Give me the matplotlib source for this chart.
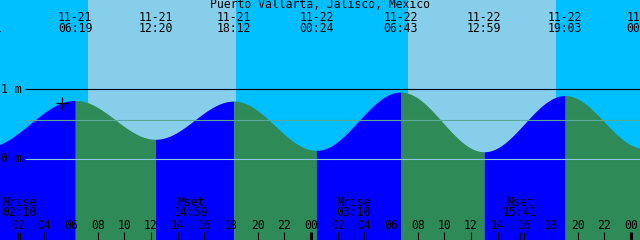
import numpy as np
import matplotlib
matplotlib.use('Agg')
import matplotlib.pyplot as plt

# Tide events (date, time, height in m)
event_dates = ['11-20', '11-21', '11-21', '11-21', '11-22', '11-22', '11-22', '11-22', '11-23']
event_times = ['23:31', '06:19', '12:20', '18:12', '00:24', '06:43', '12:59', '19:03', '00:57']
event_heights = [0.16, 0.84, 0.28, 0.83, 0.12, 0.96, 0.10, 0.91, 0.15]

# sun and moon
sunrise = ['07:16', '07:17']
sunset = ['18:21', '18:23']
moon_labels = ['Mrise', 'Mset', 'Mrise', 'Mset']
moon_times = ['02:10', '14:59', '03:10', '15:41']
moon_days = [0, 0, 1, 1]

now_time = 5.33  # hours since 11-21 00:00 (the + marker)

title = 'Puerto Vallarta, Jalisco, Mexico'
day_of = {'11-20': -1, '11-21': 0, '11-22': 1, '11-23': 2}


def hours(hhmm, day=0):
    h, m = hhmm.split(':')
    return 24 * day + int(h) + int(m) / 60.0


ev_t = np.array([hours(tm, day_of[d]) for d, tm in zip(event_dates, event_times)])
ev_h = np.array(event_heights)

# axes ranges matching pixel layout
px_per_h = 320 / 24.0
x0 = 24 - 311 / px_per_h
x1 = x0 + 640 / px_per_h
px_per_m = 69.4
y_top = 158.7 / px_per_m
y_bot = -(240 - 158.7) / px_per_m

fig = plt.figure(figsize=(6.4, 2.4), dpi=100)
ax = fig.add_axes([0, 0, 1, 1])
ax.set_xlim(x0, x1)
ax.set_ylim(y_bot, y_top)
ax.axis('off')

night = '#00BFFF'
day = '#87CEEB'
ax.axvspan(x0, x1, color=night, lw=0)
for d in range(2):
    ax.axvspan(hours(sunrise[d], d), hours(sunset[d], d), color=day, lw=0)

# tide curve between extremes, flood blue / ebb green
for i in range(len(ev_t) - 1):
    ta, tb = ev_t[i], ev_t[i + 1]
    ha, hb = ev_h[i], ev_h[i + 1]
    tt = np.linspace(ta, tb, 200)
    hh = ha + (hb - ha) * (1 - np.cos(np.pi * (tt - ta) / (tb - ta))) / 2
    col = '#0000FF' if hb > ha else '#2E8B57'
    ax.fill_between(tt, y_bot, hh, color=col, lw=0)

# level lines
xl = x0 + 25 / px_per_h
ax.hlines(1.0, xl, x1, color='black', lw=0.8)
ax.hlines(0.0, xl, x1, color='#8CC8E8', lw=0.8)
ax.hlines(0.553, xl, x1, color='#5AA897', lw=0.8)

font = dict(family='DejaVu Sans Mono', fontsize=8.3, color='black')
ax.text(x0 + 1 / px_per_h, 1.0, '1 m', ha='left', va='center', **font)
ax.text(x0 + 1 / px_per_h, 0.0, '0 m', ha='left', va='center', **font)

ax.plot([now_time], [0.80], marker='+', color='black', markersize=9, mew=0.9)

xa = ax.get_xaxis_transform()


def yf(ypix):
    return 1 - ypix / 240.0


ax.text(0.5, yf(5), title, transform=ax.transAxes, ha='center', va='center', **font)
for t, d, tm in zip(ev_t, event_dates, event_times):
    # the date of an event whose centre is off the left edge is not drawn
    if t > x0:
        ax.text(t, yf(17.5), d, transform=xa, ha='center', va='center', **font)
    ax.text(t, yf(29), tm, transform=xa, ha='center', va='center', **font)

# hour ticks
for hr in range(2, 49, 2):
    ax.text(hr, yf(225.5), '%02d' % (hr % 24), transform=xa, ha='center', va='center', **font)
    lw = 2.2 if hr % 24 == 0 else 0.8
    ax.vlines(hr, 0, 8 / 240.0, transform=xa, color='black', lw=lw)

# moon rise / set
for lab, tm, d in zip(moon_labels, moon_times, moon_days):
    t = hours(tm, d)
    ax.text(t, yf(202), lab, transform=xa, ha='center', va='center', **font)
    ax.text(t, yf(213), tm, transform=xa, ha='center', va='center', **font)
    ax.vlines(t, 0, 8 / 240.0, transform=xa, color='black', lw=0.8)

fig.savefig('out.png', dpi=100)
